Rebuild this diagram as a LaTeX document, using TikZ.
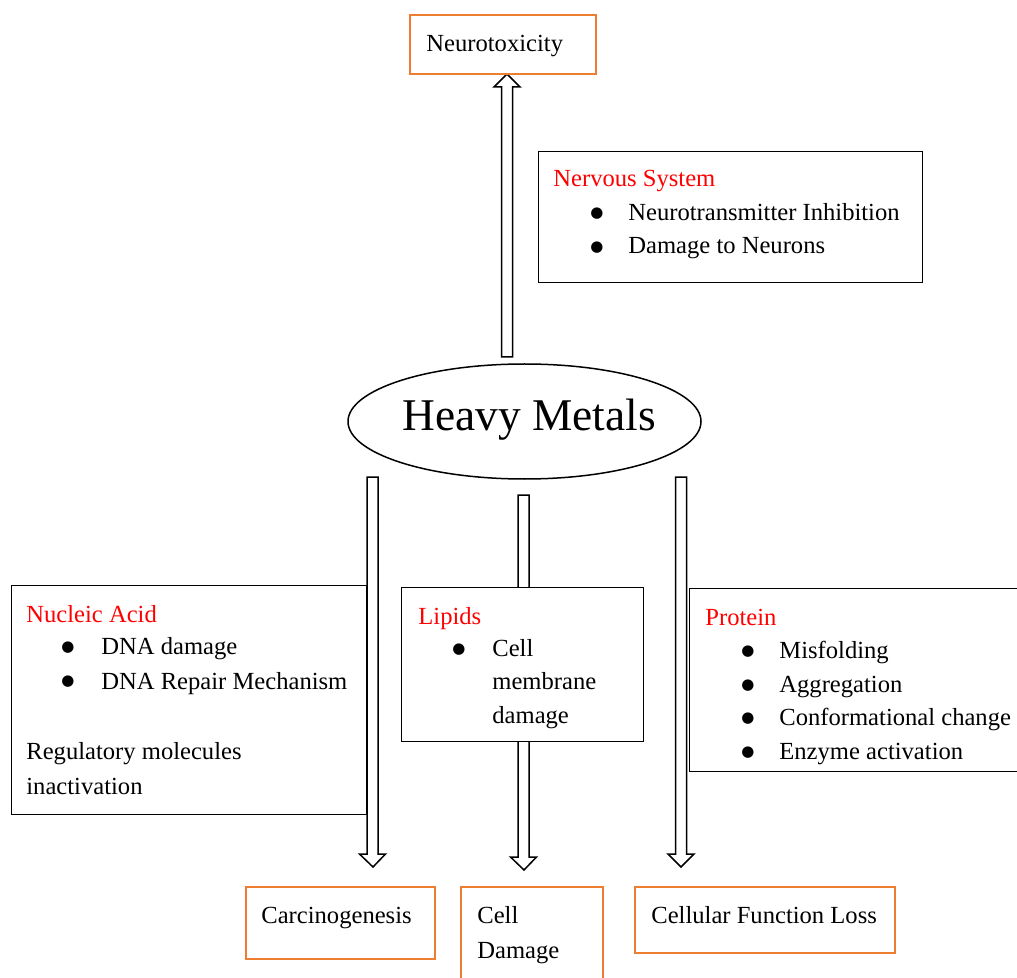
\documentclass[tikz,border=0pt]{standalone}
\usepackage{fontspec}
\setmainfont{Liberation Serif}
\newfontfamily\symfont{DejaVu Sans}
\usetikzlibrary{calc,shapes.geometric}
\definecolor{boxorange}{HTML}{ED7D31}
\definecolor{titlered}{HTML}{FF0000}
\tikzset{
  blackbox/.style={draw=black, line width=0.6pt, fill=white, rectangle, inner sep=0pt, anchor=north west},
  orangebox/.style={draw=boxorange, line width=1pt, fill=white, rectangle, inner sep=0pt, anchor=north west},
  txt/.style={anchor=base west, inner sep=0pt, font=\fontsize{12.3}{17}\selectfont},
  title/.style={txt, text=titlered},
  bul/.style={anchor=center, inner sep=0pt, font=\symfont\fontsize{7.5}{8}\selectfont},
  blockarrow/.style={draw=black, line width=0.75pt, fill=white, line join=miter},
}
\newcommand\vblock[2]{%
  \draw[blockarrow] let \p1=(#1), \p2=(#2), \p3=($(#2)!6.5pt!(#1)$) in
    (\x1-2.75pt,\y1) -- (\x1-2.75pt,\y3) -- (\x1-6.5pt,\y3) -- (\x2,\y2)
    -- (\x1+6.5pt,\y3) -- (\x1+2.75pt,\y3) -- (\x1+2.75pt,\y1) -- cycle;}
\begin{document}
\begin{tikzpicture}[x=0.5pt,y=-0.5pt]
\clip (0,0) rectangle (1017,978);
\fill[white] (0,0) rectangle (1017,978);

% arrow coordinates
\coordinate (upS) at (507,357);
\coordinate (upT) at (507,74);
\coordinate (lS) at (372.5,477);
\coordinate (lT) at (373,867);
\coordinate (mS) at (523.5,495);
\coordinate (mT) at (524,870);
\coordinate (rS) at (681,477);
\coordinate (rT) at (681,867);

% arrows (drawn first, boxes cover them)
\vblock{upS}{upT}
\vblock{lS}{lT}
\vblock{mS}{mT}
\vblock{rS}{rT}

% central ellipse
\node[ellipse, draw=black, line width=0.75pt, fill=white, minimum width=176.5pt, minimum height=57.5pt, inner sep=0pt,
      font=\fontsize{22.7}{26}\selectfont] (hm) at (524.5,421.5) {};
\node[anchor=base, inner sep=0pt, font=\fontsize{22.7}{26}\selectfont] (hmt) at (529,430) {Heavy Metals};

% top
\node[orangebox, minimum width=93pt, minimum height=29.5pt] (neuro) at (409,14) {};
\node[txt] (neurot) at (426,52) {Neurotoxicity};

% nervous system box
\node[blackbox, minimum width=192pt, minimum height=65.5pt] (ns) at (538,151) {};
\node[title] (nst) at (553,187) {Nervous System};
\node[bul] (nsb1) at (597,214) {●};
\node[txt] (ns1) at (628,221) {Neurotransmitter Inhibition};
\node[bul] (nsb2) at (597,248) {●};
\node[txt] (ns2) at (628,254) {Damage to Neurons};

% nucleic acid box
\node[blackbox, minimum width=177.5pt, minimum height=114.5pt] (na) at (11,585) {};
\node[title] (nat) at (26,622) {Nucleic Acid};
\node[bul] (nab1) at (68,648) {●};
\node[txt] (na1) at (101,654) {DNA damage};
\node[bul] (nab2) at (68,682) {●};
\node[txt] (na2) at (101,689) {DNA Repair Mechanism};
\node[txt] (na3) at (26,759) {Regulatory molecules};
\node[txt] (na4) at (26,794) {inactivation};

% lipids box
\node[blackbox, minimum width=121pt, minimum height=77pt] (li) at (401,587) {};
\node[title] (lit) at (418,624) {Lipids};
\node[bul] (lib1) at (459,650) {●};
\node[txt] (li1) at (492,656) {Cell};
\node[txt] (li2) at (492,689) {membrane};
\node[txt] (li3) at (492,723) {damage};

% protein box (extends beyond right edge)
\node[blackbox, minimum width=180pt, minimum height=91.5pt] (pr) at (689,588) {};
\node[title] (prt) at (705,625) {Protein};
\node[bul] (prb1) at (748,652) {●};
\node[txt] (pr1) at (779,658) {Misfolding};
\node[bul] (prb2) at (748,686) {●};
\node[txt] (pr2) at (779,692) {Aggregation};
\node[bul] (prb3) at (748,719) {●};
\node[txt] (pr3) at (779,725) {Conformational change};
\node[bul] (prb4) at (748,753) {●};
\node[txt] (pr4) at (779,759) {Enzyme activation};

% bottom boxes
\node[orangebox, minimum width=94.5pt, minimum height=36pt] (carc) at (245,886) {};
\node[txt] (carct) at (261,923) {Carcinogenesis};
\node[orangebox, minimum width=71pt, minimum height=55pt] (cd) at (460,886) {};
\node[txt] (cdt1) at (477,923) {Cell};
\node[txt] (cdt2) at (477,958) {Damage};
\node[orangebox, minimum width=130pt, minimum height=33pt] (cfl) at (634,886) {};
\node[txt] (cflt) at (651,923) {Cellular Function Loss};
\end{tikzpicture}
\end{document}
